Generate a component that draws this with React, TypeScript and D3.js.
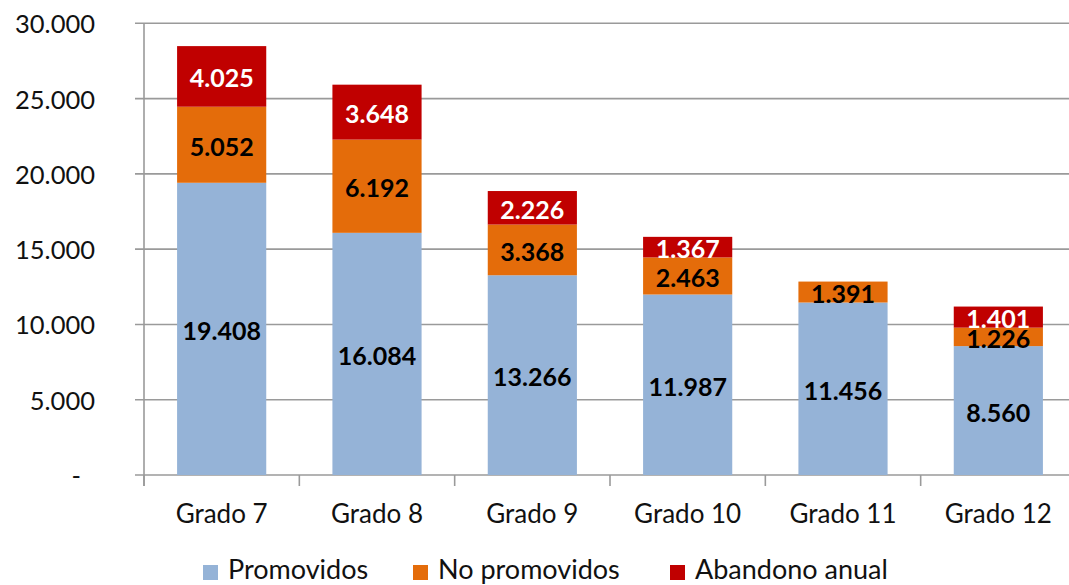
import React from "react";
import * as d3 from "d3";

const categories = ["Grado 7", "Grado 8", "Grado 9", "Grado 10", "Grado 11", "Grado 12"];
const promovidos = [19408, 16084, 13266, 11987, 11456, 8560];
const noPromovidos = [5052, 6192, 3368, 2463, 1391, 1226];
const abandono: (number | null)[] = [4025, 3648, 2226, 1367, null, 1401];
const yTicks = [0, 5000, 10000, 15000, 20000, 25000, 30000];
const seriesNames = ["Promovidos", "No promovidos", "Abandono anual"];
const seriesColors = ["#95B3D7", "#E46C0A", "#C00000"];
const labelColors = ["#000000", "#000000", "#FFFFFF"];

const W = 1069;
const H = 585;
const FONT = "Lato, 'Open Sans', sans-serif";

const fmt = (v: number) =>
  v === 0 ? "-" : d3.format(",")(v).replace(/,/g, ".");

export default function App() {
  const x = d3
    .scaleBand<string>()
    .domain(categories)
    .range([144, 1076])
    .paddingInner(0.426)
    .paddingOuter(0.213);
  const y = d3.scaleLinear().domain([0, 30000]).range([475, 23.3]);
  const step = x.step();
  const x0 = 144;

  const series = [promovidos, noPromovidos, abandono];
  const segs: { cat: string; s: number; y0: number; y1: number; v: number }[] = [];
  categories.forEach((c, i) => {
    let acc = 0;
    series.forEach((arr, s) => {
      const v = arr[i];
      if (v == null) return;
      segs.push({ cat: c, s, y0: acc, y1: acc + v, v });
      acc += v;
    });
  });

  const legendX = [203, 413, 670];

  return (
    <svg
      width={W}
      height={H}
      style={{ position: "absolute", left: 0, top: 0, background: "#fff" }}
      fontFamily={FONT}
    >
      {yTicks.map((t) => (
        <line
          key={"g" + t}
          x1={135}
          x2={W}
          y1={y(t)}
          y2={y(t)}
          stroke="#9a9a9a"
          strokeWidth={1.6}
        />
      ))}
      <line x1={x0} x2={x0} y1={y(30000)} y2={486} stroke="#9a9a9a" strokeWidth={1.6} />
      {d3.range(categories.length + 1).map((i) => (
        <line
          key={"xt" + i}
          x1={x0 + i * step}
          x2={x0 + i * step}
          y1={y(0)}
          y2={486}
          stroke="#9a9a9a"
          strokeWidth={1.6}
        />
      ))}
      {yTicks.map((t) => (
        <text
          key={"yl" + t}
          x={t === 0 ? 81 : 95}
          y={y(t)}
          textAnchor="end"
          dominantBaseline="central"
          fontSize={25.5}
          fill="#111"
        >
          {fmt(t)}
        </text>
      ))}
      {segs.map((d, i) => (
        <rect
          key={"r" + i}
          x={x(d.cat)}
          width={x.bandwidth()}
          y={y(d.y1)}
          height={y(d.y0) - y(d.y1)}
          fill={seriesColors[d.s]}
        />
      ))}
      {segs.map((d, i) => (
        <text
          key={"dl" + i}
          x={(x(d.cat) as number) + x.bandwidth() / 2}
          y={(y(d.y0) + y(d.y1)) / 2 + 1}
          textAnchor="middle"
          dominantBaseline="central"
          fontSize={25}
          fontWeight="bold"
          fill={labelColors[d.s]}
        >
          {fmt(d.v)}
        </text>
      ))}
      {categories.map((c) => (
        <text
          key={"c" + c}
          x={(x(c) as number) + x.bandwidth() / 2}
          y={523}
          textAnchor="middle"
          fontSize={26}
          fill="#111"
        >
          {c}
        </text>
      ))}
      {seriesNames.map((n, i) => (
        <g key={"lg" + i}>
          <rect x={legendX[i]} y={565} width={15} height={15} fill={seriesColors[i]} />
          <text x={legendX[i] + 25} y={579} fontSize={27} fill="#111">
            {n}
          </text>
        </g>
      ))}
    </svg>
  );
}
